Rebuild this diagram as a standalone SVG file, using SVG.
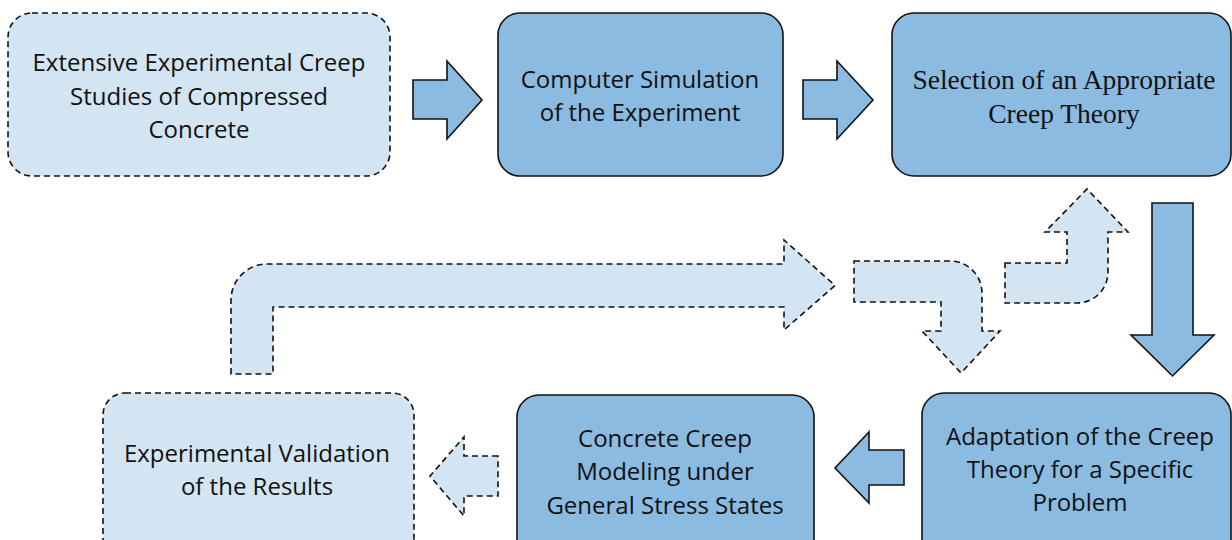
<svg xmlns="http://www.w3.org/2000/svg" width="1232" height="540" viewBox="0 0 1232 540">
<style>
.solid{fill:#8BBBE1;stroke:#111;stroke-width:1.6}
.dash{fill:#D3E5F3;stroke:#111;stroke-width:1.6;stroke-dasharray:6 4}
.t{font-family:"Open Sans","Noto Sans",sans-serif;font-size:24px;fill:#111;text-anchor:middle}
.s{font-family:"Liberation Serif","Times New Roman",serif;font-size:27.5px;fill:#111;text-anchor:middle}
</style>
<rect width="1232" height="540" fill="#fff"/>
<g id="connectors">
<path class="solid" d="M413,80 H447 V61 L482,100 L447,139 V119 H413 Z"/>
<path class="solid" d="M803,80 H837 V61 L873,100 L837,139 V119 H803 Z"/>
<path class="solid" d="M1152,203 H1193 V335 H1214 L1172.5,376 L1131,335 H1152 Z"/>
<path class="solid" d="M904,450 H869 V432 L835,468 L869,503 V485 H904 Z"/>
<path class="dash" d="M498,456 H464 V437 L430,476 L464,516 V496 H498 Z"/>
<path class="dash" d="M231,374 V300 A36,36 0 0 1 267,264 H784 V240 L835,285.5 L784,330 V307 H273 V374 Z"/>
<path class="dash" d="M854,261 H950 A32,32 0 0 1 982,293 V331 H1000 L961,373 L922,331 H941 V302 H854 Z"/>
<path class="dash" d="M1005,263 H1067 V232 H1045 L1087,189 L1128,232 H1108 V272 A31,31 0 0 1 1077,303 H1005 Z"/>
</g>
<g id="node1">
<rect class="dash" x="8" y="13" width="382" height="163" rx="24"/>
<text class="t" x="199" y="71">Extensive Experimental Creep</text>
<text class="t" x="199" y="105">Studies of Compressed</text>
<text class="t" x="199" y="138">Concrete</text>
</g>
<g id="node2">
<rect class="solid" x="498" y="13" width="285" height="163" rx="22"/>
<text class="t" x="640" y="88">Computer Simulation</text>
<text class="t" x="640" y="121">of the Experiment</text>
</g>
<g id="node3">
<rect class="solid" x="892" y="13" width="339" height="163" rx="22"/>
<text class="s" x="1064" y="89">Selection of an Appropriate</text>
<text class="s" x="1064" y="123">Creep Theory</text>
</g>
<g id="node4">
<rect class="solid" x="922" y="393" width="309" height="170" rx="22"/>
<text class="t" x="1080" y="445">Adaptation of the Creep</text>
<text class="t" x="1080" y="478">Theory for a Specific</text>
<text class="t" x="1080" y="511">Problem</text>
</g>
<g id="node5">
<rect class="solid" x="517" y="395" width="297" height="170" rx="22"/>
<text class="t" x="665" y="447">Concrete Creep</text>
<text class="t" x="665" y="480">Modeling under</text>
<text class="t" x="665" y="514">General Stress States</text>
</g>
<g id="node6">
<rect class="dash" x="103" y="393" width="311" height="170" rx="22"/>
<text class="t" x="257" y="462">Experimental Validation</text>
<text class="t" x="257" y="495">of the Results</text>
</g>
</svg>
